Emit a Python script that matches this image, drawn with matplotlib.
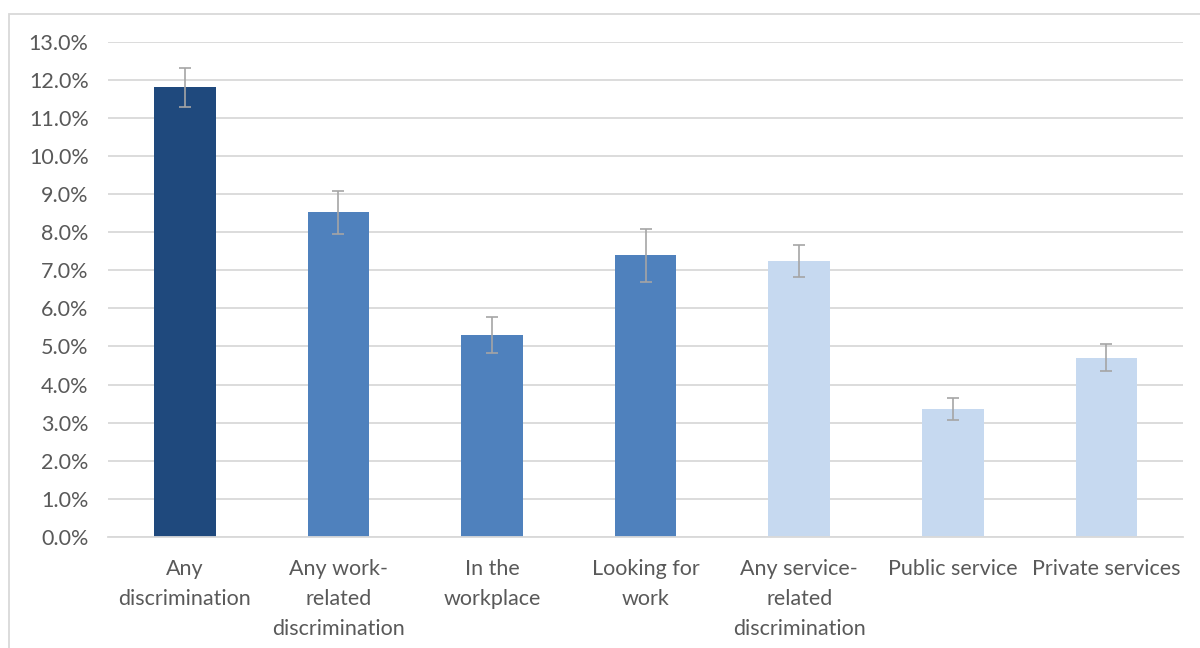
import matplotlib.pyplot as plt
import matplotlib.patches as mpatches
from matplotlib.ticker import FuncFormatter

# データ
categories = ["Any\ndiscrimination", "Any work-\nrelated\ndiscrimination", "In the\nworkplace",
              "Looking for\nwork", "Any service-\nrelated\ndiscrimination", "Public service",
              "Private services"]
values = [11.80, 8.53, 5.30, 7.40, 7.24, 3.36, 4.70]
err_low = [11.29, 7.95, 4.84, 6.68, 6.83, 3.07, 4.36]
err_high = [12.32, 9.08, 5.78, 8.09, 7.66, 3.64, 5.06]
colors = ["#1F497D", "#4F81BD", "#4F81BD", "#4F81BD", "#C6D9F0", "#C6D9F0", "#C6D9F0"]

plt.rcParams['font.family'] = ['Lato', 'DejaVu Sans']

fig = plt.figure(figsize=(12, 6.48), dpi=100)
ax = fig.add_axes([0.09, 0.1713, 0.896, 0.7644])

x = range(len(values))
yerr = [[v - lo for v, lo in zip(values, err_low)],
        [hi - v for v, hi in zip(values, err_high)]]
ax.bar(x, values, width=0.40, color=colors, zorder=2)
ax.errorbar(x, values, yerr=yerr, fmt='none', ecolor="#A5A5A5", elinewidth=1.2,
            capsize=4.5, capthick=1.2, zorder=3)

ax.set_ylim(0, 13)
ax.set_xlim(-0.5, len(values) - 0.5)
ax.set_yticks([i for i in range(14)])
ax.yaxis.set_major_formatter(FuncFormatter(lambda v, p: f"{v:.1f}%"))
ax.grid(axis='y', color="#D9D9D9", linewidth=1.3, zorder=0)
ax.set_axisbelow(True)
for s in ['top', 'right', 'left']:
    ax.spines[s].set_visible(False)
ax.spines['bottom'].set_color("#D9D9D9")
ax.spines['bottom'].set_linewidth(1.3)
ax.set_xticks(list(x))
ax.set_xticklabels(categories, linespacing=1.62)
ax.tick_params(axis='both', length=0, labelsize=15.5, colors="#595959")
ax.tick_params(axis='x', pad=16)
ax.tick_params(axis='y', pad=14)

# 外枠
fig.patches.append(mpatches.Rectangle((9 / 1200, -0.1), 1.2, 1 - 14 / 648 + 0.1,
                                      transform=fig.transFigure, fill=False,
                                      edgecolor="#D9D9D9", linewidth=1.3))

fig.savefig("out.png", dpi=100)
